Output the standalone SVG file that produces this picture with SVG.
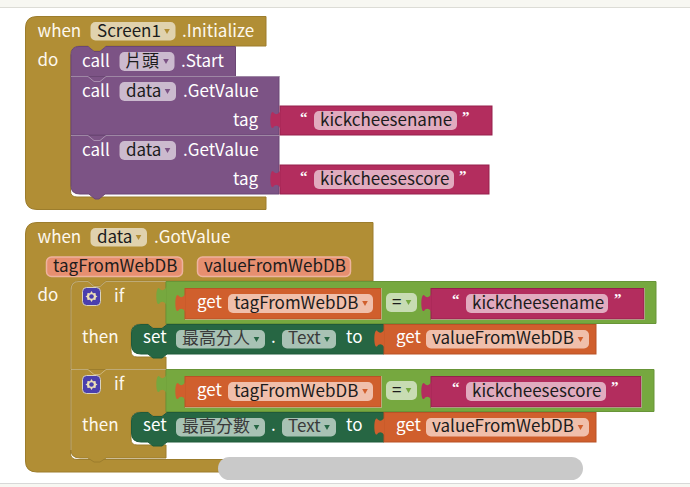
<svg xmlns="http://www.w3.org/2000/svg" width="690" height="487" viewBox="0 0 690 487">
<style>
text{font-family:"Noto Sans CJK TC","Noto Sans",sans-serif;font-size:17px}
.w{fill:#fff}
.lbl{fill:#fdf8ee}
.k{fill:#1c1c1c}
.dk{fill:#3a3a3a}
.q{font-family:"Liberation Serif",serif;font-size:15px;font-weight:bold;fill:#fff}
.gold{fill:#b18e35;stroke:#9c7d2d;stroke-width:1}
.purple{fill:#7c5385;stroke:#6b4774;stroke-width:1}
.mag{fill:#b32d5e;stroke:#96204c;stroke-width:1}
.grn{fill:#76a83f;stroke:#689538;stroke-width:1}
.org{fill:#d05f2d;stroke:#b95226;stroke-width:1}
.dgr{fill:#266643;stroke:#1f5a3a;stroke-width:1}
.hl{fill:none;stroke:#fff;stroke-opacity:.35;stroke-width:1}
.cg{fill:#e0d2ae}.cp{fill:#cbbace}.cm{fill:#e1abbf}.co{fill:#f0bfab}.cd{fill:#a8c2b4}.ce{fill:#c8dcb3}
.cb{fill:#e78f70;stroke:#eeb39e;stroke-width:1.5}
.tm{fill:#b32d5e}.tp{fill:#76a83f}.to{fill:#d05f2d}
</style>
<defs>
<path id="tab" d="M0.500,-1C-2,3 -5,3 -7,0C-10.500,-1.500 -10.500,17.500 -7,16C-5,13 -2,13 0.500,17z"/>
<path id="tri" d="M-2.800,-2h5.600l-2.800,5z"/>
<g id="gear">
<rect x="0.500" y="0.500" width="18" height="18" rx="4" fill="#4a3fae" stroke="#d9d3c0"/>
<path d="M9.500,4l1.400,2.200 2.600,-0.200 0.400,2.600 1.600,0.900 -1.600,0.900 -0.400,2.600 -2.600,-0.200 -1.400,2.200 -1.400,-2.200 -2.600,0.200 -0.400,-2.600 -1.600,-0.900 1.600,-0.900 0.400,-2.600 2.600,0.200z" fill="#ecdfb8"/>
<circle cx="9.500" cy="9.500" r="2.300" fill="#4a3fae"/>
</g>
</defs>
<rect width="690" height="487" fill="#fff"/>
<rect width="690" height="7" fill="#f7f7f2"/>
<rect y="7" width="690" height="1" fill="#dcdcd6"/>
<rect y="484" width="690" height="3" fill="#f7f7f2"/>
<rect y="483" width="690" height="1" fill="#d8d8d8"/>

<!-- Screen1.Initialize event -->
<g id="when-screen1">
<path class="gold" d="M37,16.500H266V46H106l-6,5h-6l-6,-5H80Q70.500,46 70.500,55V191Q70.500,197 77,197H266V209.500H37Q25.500,209.500 25.500,198V28Q25.500,16.500 37,16.500z"/>
<text class="lbl" x="37.500" y="37">when</text>
<rect class="cg" x="90.500" y="22" width="85" height="18.500" rx="5"/>
<text class="k" x="97" y="37">Screen1</text>
<use href="#tri" x="167" y="31" fill="#b18e35"/>
<text class="lbl" x="182" y="37">.Initialize</text>
<text class="lbl" x="37.500" y="66">do</text>
</g>
<g id="call-start">
<path class="purple" d="M79,46.500H88l6,5h6l6,-5H235.500V76.500H71V55Q71,46.500 79,46.500z"/>
<text class="w" x="82" y="67">call</text>
<rect class="cp" x="119.500" y="52" width="55" height="19" rx="5"/>
<text class="k" x="125" y="67">片頭</text>
<use href="#tri" x="166" y="61" fill="#7c5385"/>
<text class="w" x="181" y="67">.Start</text>
</g>
<g id="call-getvalue-name">
<rect class="purple" x="71" y="76.500" width="208" height="58.500"/>
<path class="hl" d="M71,76.500H88l6,5h6l6,-5H279"/>
<text class="w" x="82" y="97">call</text>
<rect class="cp" x="119.500" y="82" width="56.500" height="19" rx="5"/>
<text class="k" x="126" y="97">data</text>
<use href="#tri" x="167.500" y="91" fill="#7c5385"/>
<text class="w" x="183" y="97">.GetValue</text>
<text class="w" x="233" y="126">tag</text>
</g>
<g id="text-name">
<rect class="mag" x="280" y="106" width="212" height="29"/>
<use href="#tab" x="280" y="112" class="tm"/>
<text class="q" x="300" y="122">“</text>
<rect class="cm" x="314" y="111" width="143" height="19" rx="5"/>
<text class="k" x="320" y="126">kickcheesename</text>
<text class="q" x="462" y="122">”</text>
</g>
<g id="call-getvalue-score">
<path class="purple" d="M71,135.500H279V194H105l-6,5h-4l-6,-5H80Q71,194 71,186z"/>
<path class="hl" d="M71,135.500H88l6,5h6l6,-5H279"/>
<text class="w" x="82" y="156">call</text>
<rect class="cp" x="119.500" y="141" width="56.500" height="19" rx="5"/>
<text class="k" x="126" y="156">data</text>
<use href="#tri" x="167.500" y="150" fill="#7c5385"/>
<text class="w" x="183" y="156">.GetValue</text>
<text class="w" x="233" y="185">tag</text>
</g>
<g id="text-score">
<rect class="mag" x="280" y="165" width="209" height="29"/>
<use href="#tab" x="280" y="171" class="tm"/>
<text class="q" x="300" y="181">“</text>
<rect class="cm" x="314" y="170" width="140" height="19" rx="5"/>
<text class="k" x="320" y="185">kickcheesescore</text>
<text class="q" x="459" y="181">”</text>
</g>

<!-- data.GotValue event -->
<g id="when-gotvalue">
<path class="gold" d="M37,222.500H373V281H106l-6,5h-6l-6,-5H80Q70.500,281 70.500,290V453Q70.500,459.500 77,459.500H240V472H37Q25.500,472 25.500,461V234Q25.500,222.500 37,222.500z"/>
<text class="lbl" x="37.500" y="243">when</text>
<rect class="cg" x="90.500" y="228" width="56.500" height="18.500" rx="5"/>
<text class="k" x="97" y="243">data</text>
<use href="#tri" x="138.500" y="237" fill="#b18e35"/>
<text class="lbl" x="154" y="243">.GotValue</text>
<rect class="cb" x="46.500" y="257" width="136" height="19.500" rx="5"/>
<text class="k" x="53" y="272">tagFromWebDB</text>
<rect class="cb" x="197.500" y="257" width="153" height="19.500" rx="5"/>
<text class="k" x="204" y="272">valueFromWebDB</text>
<text class="lbl" x="37.500" y="301">do</text>
</g>
<g id="if-name">
<path class="gold" d="M79,281.500H88l6,5h6l6,-5H166V324H167l-5,4h-9l-5,-4H140Q131,324 131,333V351Q131,357 137,357H166V369.500H71V290Q71,281.500 79,281.500z"/>
<path class="hl" d="M71,369V290Q71,281.500 79,281.500H88l6,5h6l6,-5H166"/>
<use href="#gear" x="82" y="287"/>
<text class="lbl" x="114" y="302">if</text>
<text class="lbl" x="82" y="343">then</text>
<path class="grn" d="M166,281.500H656V323.500H166z"/>
<use href="#tab" x="166" y="288" class="tp"/>
<rect class="org" x="185" y="288.500" width="196" height="30.500"/>
<path class="hl" d="M185,319.500H381.500V288"/>
<use href="#tab" x="185" y="295" class="to"/>
<text class="w" x="197" y="308">get</text>
<rect class="co" x="228" y="294" width="145" height="19" rx="5"/>
<text class="k" x="234" y="308.500">tagFromWebDB</text>
<use href="#tri" x="365" y="303" fill="#d05f2d"/>
<rect class="ce" x="386" y="293" width="31" height="19" rx="5"/>
<text class="k" x="392" y="307.500">=</text>
<use href="#tri" x="408.500" y="302" fill="#76a83f"/>
<rect class="mag" x="431" y="288.500" width="213" height="30.500"/>
<path class="hl" d="M431,319.500H644.500V288"/>
<use href="#tab" x="431" y="295" class="tm"/>
<text class="q" x="452" y="304">“</text>
<rect class="cm" x="466" y="294" width="142" height="19" rx="5"/>
<text class="k" x="472" y="308.500">kickcheesename</text>
<text class="q" x="614" y="304">”</text>
</g>
<g id="set-top">
<path class="dgr" d="M141,324.500H148l5,4h9l5,-4H384V354H167l-5,4h-9l-5,-4H141Q131.500,354 131.500,345V333Q131.500,324.500 141,324.500z"/>
<text class="w" x="143" y="343">set</text>
<rect class="cd" x="176" y="330" width="89" height="18.500" rx="5"/>
<text class="dk" x="182" y="343.500">最高分人</text>
<use href="#tri" x="256.500" y="339" fill="#266643"/>
<text class="w" x="271" y="343">.</text>
<rect class="cd" x="282" y="330" width="54" height="18.500" rx="5"/>
<text class="dk" x="288" y="343.500">Text</text>
<use href="#tri" x="327" y="339" fill="#266643"/>
<text class="w" x="346" y="343">to</text>
</g>
<g id="get-top">
<rect class="org" x="384" y="324.500" width="212" height="29.500"/>
<use href="#tab" x="384" y="330.500" class="to"/>
<text class="w" x="396" y="343">get</text>
<rect class="co" x="426" y="330" width="163" height="18.500" rx="5"/>
<text class="k" x="432" y="343.500">valueFromWebDB</text>
<use href="#tri" x="580.500" y="339" fill="#d05f2d"/>
</g>
<g id="if-score">
<path class="gold" d="M71,369.500H166V412H167l-5,4h-9l-5,-4H140Q131,412 131,421V439Q131,445 137,445H166V458H106l-6,4h-6l-6,-4H80Q71,458 71,450z"/>
<path class="hl" d="M71,450V369.500H88l6,5h6l6,-5H166"/>
<use href="#gear" x="82" y="375"/>
<text class="lbl" x="114" y="390">if</text>
<text class="lbl" x="82" y="431">then</text>
<path class="grn" d="M166,369.500H654V411.500H166z"/>
<use href="#tab" x="166" y="376" class="tp"/>
<rect class="org" x="185" y="376.500" width="196" height="30.500"/>
<path class="hl" d="M185,407.500H381.500V376"/>
<use href="#tab" x="185" y="383" class="to"/>
<text class="w" x="197" y="396">get</text>
<rect class="co" x="228" y="382" width="145" height="19" rx="5"/>
<text class="k" x="234" y="396.500">tagFromWebDB</text>
<use href="#tri" x="365" y="391" fill="#d05f2d"/>
<rect class="ce" x="386" y="381" width="31" height="19" rx="5"/>
<text class="k" x="392" y="395.500">=</text>
<use href="#tri" x="408.500" y="390" fill="#76a83f"/>
<rect class="mag" x="431" y="376.500" width="210" height="30.500"/>
<path class="hl" d="M431,407.500H641.500V376"/>
<use href="#tab" x="431" y="383" class="tm"/>
<text class="q" x="452" y="392">“</text>
<rect class="cm" x="466" y="382" width="140" height="19" rx="5"/>
<text class="k" x="472" y="396.500">kickcheesescore</text>
<text class="q" x="611" y="392">”</text>
</g>
<g id="set-bottom">
<path class="dgr" d="M141,412.500H148l5,4h9l5,-4H384V442H167l-5,4h-9l-5,-4H141Q131.500,442 131.500,433V421Q131.500,412.500 141,412.500z"/>
<text class="w" x="143" y="431">set</text>
<rect class="cd" x="176" y="418" width="89" height="18.500" rx="5"/>
<text class="dk" x="182" y="431.500">最高分數</text>
<use href="#tri" x="256.500" y="427" fill="#266643"/>
<text class="w" x="271" y="431">.</text>
<rect class="cd" x="282" y="418" width="54" height="18.500" rx="5"/>
<text class="dk" x="288" y="431.500">Text</text>
<use href="#tri" x="327" y="427" fill="#266643"/>
<text class="w" x="346" y="431">to</text>
</g>
<g id="get-bottom">
<rect class="org" x="384" y="412.500" width="212" height="29.500"/>
<use href="#tab" x="384" y="418.500" class="to"/>
<text class="w" x="396" y="431">get</text>
<rect class="co" x="426" y="418" width="163" height="18.500" rx="5"/>
<text class="k" x="432" y="431.500">valueFromWebDB</text>
<use href="#tri" x="580.500" y="427" fill="#d05f2d"/>
</g>

<!-- page scrollbar -->
<rect id="scrollbar" x="218" y="457" width="365" height="23" rx="11.500" fill="#c9c9c9"/>
</svg>
